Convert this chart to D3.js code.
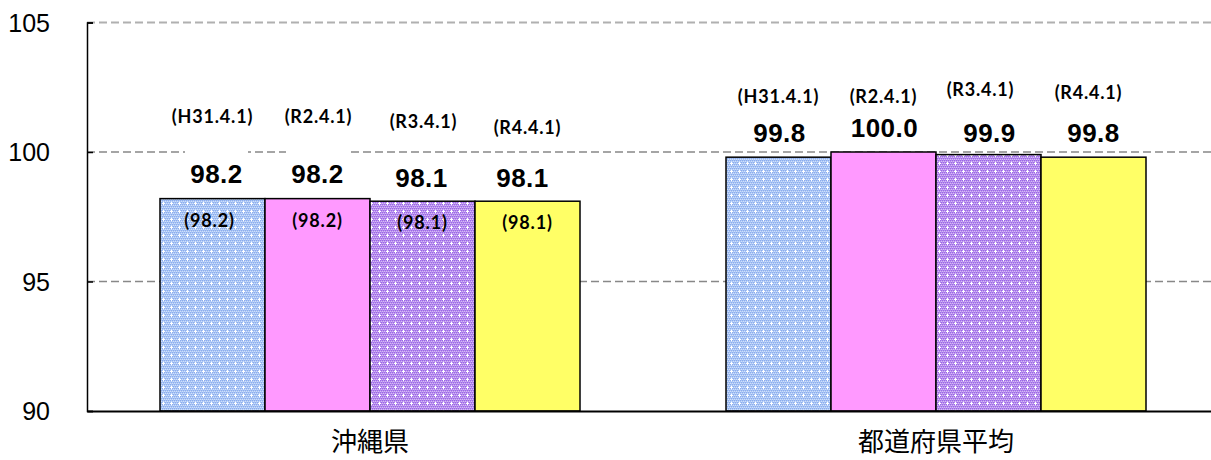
<!DOCTYPE html>
<html><head><meta charset="utf-8">
<script src="https://cdn.jsdelivr.net/npm/d3@7"></script>
<style>body{margin:0;background:#fff}svg{display:block}</style>
</head><body>
<svg id="c" width="1211" height="460"></svg>
<script>
const categories = ["沖縄県", "都道府県平均"];
const seriesNames = ["(H31.4.1)", "(R2.4.1)", "(R3.4.1)", "(R4.4.1)"];
const okinawaValues = [98.2, 98.2, 98.1, 98.1];
const averageValues = [99.8, 100.0, 99.9, 99.8];
const okinawaInnerLabels = ["(98.2)", "(98.2)", "(98.1)", "(98.1)"];
const valueLabels = [["98.2", "98.2", "98.1", "98.1"], ["99.8", "100.0", "99.9", "99.8"]];
const yTicks = [90, 95, 100, 105];

// layout nudges for the hand-placed annotation labels (px, baseline lift above bar top)
const dateLabelLift = [[75.6, 75.6, 73.7, 67], [54.5, 49.5, 58.6, 57.7]];
const dateLabelDx = [[0, 1, 1, 0], [0, 0, -8, -5]];
const valueLabelLift = [[15.6, 15.6, 14.2, 14.2], [15.5, 15.3, 12.9, 15.5]];
const valueLabelDx = [[4, 0, -1, -5], [1, 1, 1, 0]];

const svg = d3.select("#c");
const plotLeft = 87, bandW = 566, plotTop = 22.5, plotBottom = 411;
const x0 = d3.scaleBand().domain(categories).range([plotLeft, plotLeft + bandW * 2]);
const x1 = d3.scaleBand().domain(seriesNames).range([0, 420]);
const groupOffset = (bandW - 420) / 2;
const y = d3.scaleLinear().domain([90, 105]).range([plotBottom, plotTop]);

const defs = svg.append("defs");
function makePattern(id, base, dark, light) {
  const p = defs.append("pattern").attr("id", id).attr("patternUnits", "userSpaceOnUse")
    .attr("width", 8).attr("height", 8);
  p.append("rect").attr("width", 8).attr("height", 8).attr("fill", base);
  for (let i = 0; i < 8; i += 2) for (let j = 0; j < 8; j += 2) {
    p.append("rect").attr("x", i + ((j / 2) % 2)).attr("y", j).attr("width", 1).attr("height", 1).attr("fill", dark);
    p.append("rect").attr("x", i + 1 - ((j / 2) % 2)).attr("y", j + 1).attr("width", 1).attr("height", 1).attr("fill", light);
  }
  p.append("rect").attr("x", 3).attr("y", 2).attr("width", 1).attr("height", 3).attr("fill", "#fff");
  p.append("rect").attr("x", 2).attr("y", 3).attr("width", 3).attr("height", 1).attr("fill", "#fff");
}
makePattern("pBlue", "#a9c5f5", "#8caced", "#cfe0fb");
makePattern("pPurple", "#b78ded", "#9a68e6", "#d6bcf6");
const fills = ["url(#pBlue)", "#ff99ff", "url(#pPurple)", "#ffff66"];

// gridlines
const grid = svg.append("g");
yTicks.filter(t => t > 90).forEach(t => {
  grid.append("line").attr("x1", plotLeft).attr("x2", 1211).attr("y1", y(t)).attr("y2", y(t))
    .attr("stroke", t === 105 ? "#b0b0b0" : "#888").attr("stroke-width", t === 105 ? 2 : 1.5)
    .attr("stroke-dasharray", "8,4");
});

// y axis
const yAxis = d3.axisLeft(y).tickValues(yTicks).tickSize(-6).tickPadding(37).tickFormat(d3.format("d"));
const ya = svg.append("g").attr("transform", `translate(${plotLeft},0)`).call(yAxis);
ya.select(".domain").attr("stroke", "#000").attr("stroke-width", 1.5);
ya.selectAll(".tick line").attr("stroke", "#000").attr("stroke-width", 1.5);
ya.selectAll(".tick text").attr("font-family", "Liberation Sans, Arial, sans-serif")
  .attr("font-size", 25).attr("fill", "#000").attr("dy", "0.35em");

const allValues = [okinawaValues, averageValues];
const data = [];
categories.forEach((c, ci) => seriesNames.forEach((s, si) => data.push({c, ci, s, si, v: allValues[ci][si]})));
const bx = d => x0(d.c) + groupOffset + x1(d.s);

// value label backgrounds (hide gridline behind labels)
const labels = svg.append("g");
data.forEach(d => {
  const cx = bx(d) + x1.bandwidth() / 2 + valueLabelDx[d.ci][d.si];
  const base = y(d.v) - valueLabelLift[d.ci][d.si];
  labels.append("rect").attr("x", cx - 31.5).attr("y", base - 33).attr("width", 63).attr("height", 35).attr("fill", "#fff");
});

// bars
svg.append("g").selectAll("rect").data(data).join("rect")
  .attr("x", bx).attr("width", x1.bandwidth())
  .attr("y", d => y(d.v)).attr("height", d => plotBottom - y(d.v))
  .attr("fill", d => fills[d.si]).attr("stroke", "#000").attr("stroke-width", 1.5);

// x axis
const xAxis = d3.axisBottom(x0).tickSize(0).tickPadding(22);
const xa = svg.append("g").attr("transform", `translate(0,${plotBottom})`).call(xAxis);
xa.select(".domain").attr("stroke", "#000").attr("stroke-width", 2);
xa.selectAll(".tick text").attr("font-family", "Noto Sans CJK JP, sans-serif")
  .attr("font-size", 26).attr("fill", "#000");

const texts = svg.append("g");
data.forEach(d => {
  const cx = bx(d) + x1.bandwidth() / 2;
  texts.append("text").attr("x", cx + valueLabelDx[d.ci][d.si]).attr("y", y(d.v) - valueLabelLift[d.ci][d.si])
    .attr("text-anchor", "middle").attr("font-family", "Liberation Sans, Arial, sans-serif")
    .attr("font-weight", "bold").attr("font-size", 26).attr("letter-spacing", 0.5)
    .text(valueLabels[d.ci][d.si]);
  texts.append("text").attr("x", cx + dateLabelDx[d.ci][d.si]).attr("y", y(d.v) - dateLabelLift[d.ci][d.si])
    .attr("text-anchor", "middle").attr("font-family", "Lato, sans-serif")
    .attr("font-weight", "bold").attr("font-size", 18).attr("letter-spacing", 0.8)
    .text(d.s);
  if (d.ci === 0) {
    texts.append("text").attr("x", cx - (d.si === 0 ? 3 : 0)).attr("y", y(d.v) + 28)
      .attr("text-anchor", "middle").attr("font-family", "Lato, sans-serif")
      .attr("font-weight", "bold").attr("font-size", 18).attr("letter-spacing", 0.8)
      .text(okinawaInnerLabels[d.si]);
  }
});
</script>
</body></html>
